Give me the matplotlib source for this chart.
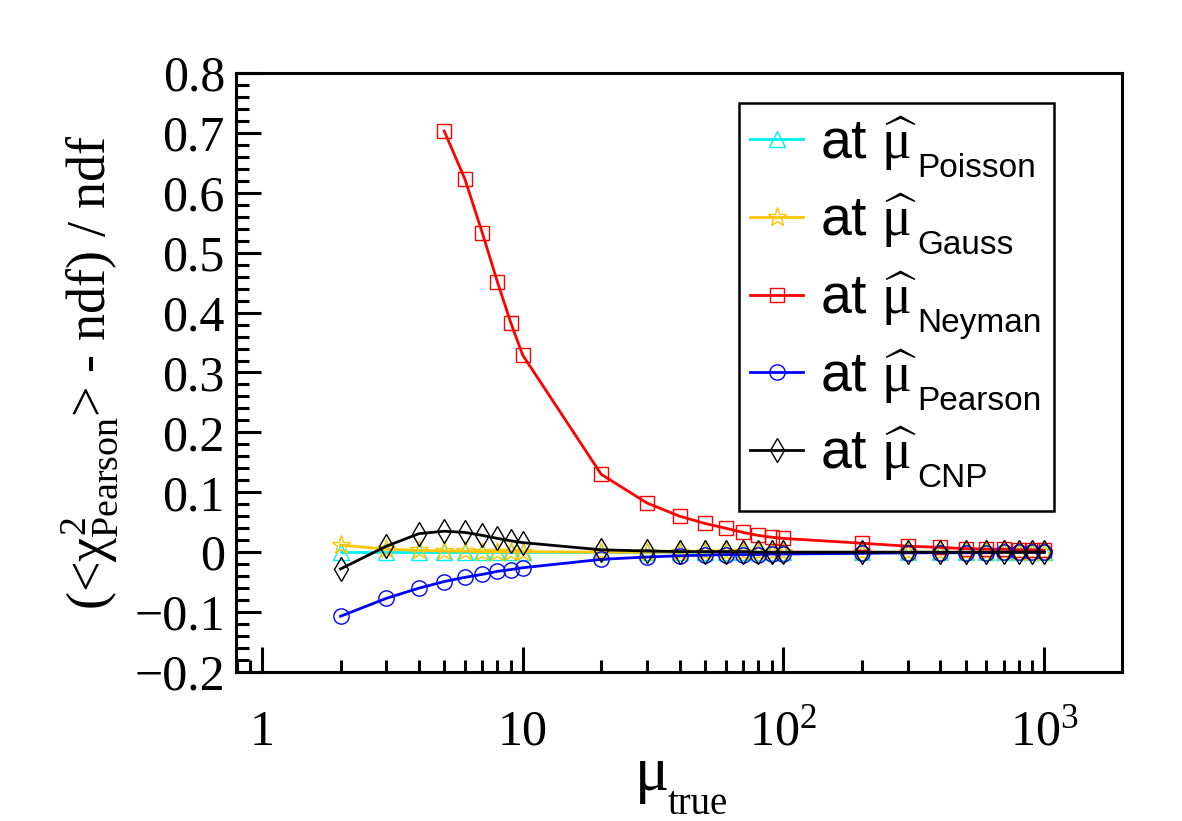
import numpy as np
import matplotlib
matplotlib.use("Agg")
import matplotlib.pyplot as plt
from matplotlib.patches import Rectangle
from matplotlib.ticker import FixedLocator, FuncFormatter, MultipleLocator, LogLocator, NullFormatter

plt.rcParams['mathtext.fontset'] = 'custom'
plt.rcParams['mathtext.rm'] = 'Liberation Serif'
plt.rcParams['mathtext.it'] = 'Liberation Serif'
plt.rcParams['mathtext.sf'] = 'Liberation Sans'
plt.rcParams['font.family'] = 'Liberation Serif'

# mu_true values
mu_true = [2, 3, 4, 5, 6, 7, 8, 9, 10, 20, 30, 40, 50, 60, 70, 80, 90, 100,
           200, 300, 400, 500, 600, 700, 800, 900, 1000]
mu_neyman = mu_true[3:]

poisson = [0.0, 0.0, 0.0, 0.0, 0.0, 0.0, 0.0, 0.0, 0.0, 0.0, 0.0, 0.0, 0.0, 0.0,
           0.0, 0.0, 0.0, 0.0, 0.0, 0.0, 0.0, 0.0, 0.0, 0.0, 0.0, 0.0, 0.0]
gauss = [0.012, 0.005, 0.003, 0.002, 0.002, 0.001, 0.001, 0.001, 0.001, 0.0, 0.0,
         0.0, 0.0, 0.0, 0.0, 0.0, 0.0, 0.0, 0.0, 0.0, 0.0, 0.0, 0.0, 0.0, 0.0, 0.0, 0.0]
neyman = [0.703, 0.623, 0.533, 0.451, 0.383, 0.329, 0.130, 0.082, 0.060, 0.048,
          0.040, 0.033, 0.028, 0.025, 0.023, 0.015, 0.010, 0.008, 0.006, 0.005,
          0.005, 0.004, 0.004, 0.003]
pearson = [-0.107, -0.077, -0.060, -0.049, -0.042, -0.037, -0.032, -0.029, -0.026,
           -0.012, -0.008, -0.006, -0.005, -0.004, -0.004, -0.004, -0.003, -0.003,
           -0.002, -0.001, -0.001, -0.001, -0.001, 0.0, 0.0, 0.0, 0.0]
cnp = [-0.028, 0.010, 0.031, 0.035, 0.033, 0.028, 0.023, 0.019, 0.016, 0.004,
       0.002, 0.001, 0.001, 0.001, 0.001, 0.0, 0.0, 0.0, 0.0, 0.0, 0.0, 0.0, 0.0,
       0.0, 0.0, 0.0, 0.0]

subs = ['Poisson', 'Gauss', 'Neyman', 'Pearson', 'CNP']

fig = plt.figure(figsize=(11.82, 8.21), dpi=100)
ax = fig.add_axes([0.1997, 0.1815, 0.7496, 0.7296])

lw = 2.0
ax.plot(mu_true, poisson, color='#00f0f0', lw=lw, marker='^', ms=11, mfc='none', mew=1.0)
ax.plot(mu_true, gauss, color='#ffc400', lw=lw, marker='*', ms=14, mfc='none', mew=1.0)
ax.plot(mu_neyman, neyman, color='#ff0000', lw=lw, marker='s', ms=10.5, mfc='none', mew=1.0)
ax.plot(mu_true, pearson, color='#0000ff', lw=lw, marker='o', ms=11, mfc='none', mew=1.0)
ax.plot(mu_true, cnp, color='black', lw=lw, marker='d', ms=12, mfc='none', mew=1.0)

ax.set_xscale('log')
ax.set_xlim(0.795, 1990)
ax.set_ylim(-0.2, 0.8)

ax.xaxis.set_major_locator(FixedLocator([1, 10, 100, 1000]))
xlabels = {1: '1', 10: '10', 100: r'$10^{2}$', 1000: r'$10^{3}$'}
ax.xaxis.set_major_formatter(FuncFormatter(lambda v, p: xlabels.get(int(round(v)), '')))
ax.xaxis.set_minor_locator(LogLocator(base=10, subs=np.arange(2, 10)))
ax.xaxis.set_minor_formatter(NullFormatter())

ax.yaxis.set_major_locator(MultipleLocator(0.1))
ax.yaxis.set_minor_locator(MultipleLocator(0.02))
ax.yaxis.set_major_formatter(FuncFormatter(
    lambda v, p: '0' if abs(v) < 1e-9 else ('%.1f' % v).replace('-', '\u2212')))

for s in ax.spines.values():
    s.set_linewidth(2.2)
ax.tick_params(which='both', direction='in', top=False, right=False, width=2.2)
ax.tick_params(which='major', length=18, labelsize=36)
ax.tick_params(which='minor', length=9)
ax.tick_params(axis='x', which='major', pad=27)
ax.tick_params(axis='y', which='major', pad=8)

# x title: mu with a large, low subscript
fig.text(635 / 1182, 1 - 790 / 821, '\u03bc', fontsize=46, ha='left', va='baseline')
fig.text(668 / 1182, 1 - 814 / 821, 'true', fontsize=28, ha='left', va='baseline')

ax.set_ylabel(r'(<$\chi^{2}_{\mathrm{Pearson}}$> - ndf) / ndf', fontsize=39)
ax.yaxis.set_label_coords(-0.131, 0.5)

leg = ax.legend(ax.get_lines(), [r'at $\widehat{\mu}$'] * 5,
                loc='upper left', bbox_to_anchor=(0.5677, 0.5, 0.3556, 0.45),
                mode='expand', borderaxespad=0, frameon=False,
                prop={'family': 'Liberation Sans', 'size': 40},
                handlelength=0.95, handletextpad=0.3, labelspacing=0.345, borderpad=0.2)

# subscripts and frame of the legend, placed after the legend is laid out
fig.canvas.draw()
inv = fig.transFigure.inverted()
for t, s in zip(leg.get_texts(), subs):
    bb = t.get_window_extent()
    x, y = inv.transform((bb.x1 + 1, bb.y0 - 4))
    fig.text(x, y, s, fontsize=24, family='Liberation Sans', ha='left', va='baseline')

lb = leg.get_window_extent()
(x0, y0), (x1, y1) = inv.transform([(lb.x0, lb.y0 - 17), (lb.x1, lb.y1)])
fig.patches.append(Rectangle((x0, y0), x1 - x0, y1 - y0, transform=fig.transFigure,
                             fill=False, edgecolor='black', linewidth=1.8, zorder=5))

fig.savefig('out.png', dpi=100)
